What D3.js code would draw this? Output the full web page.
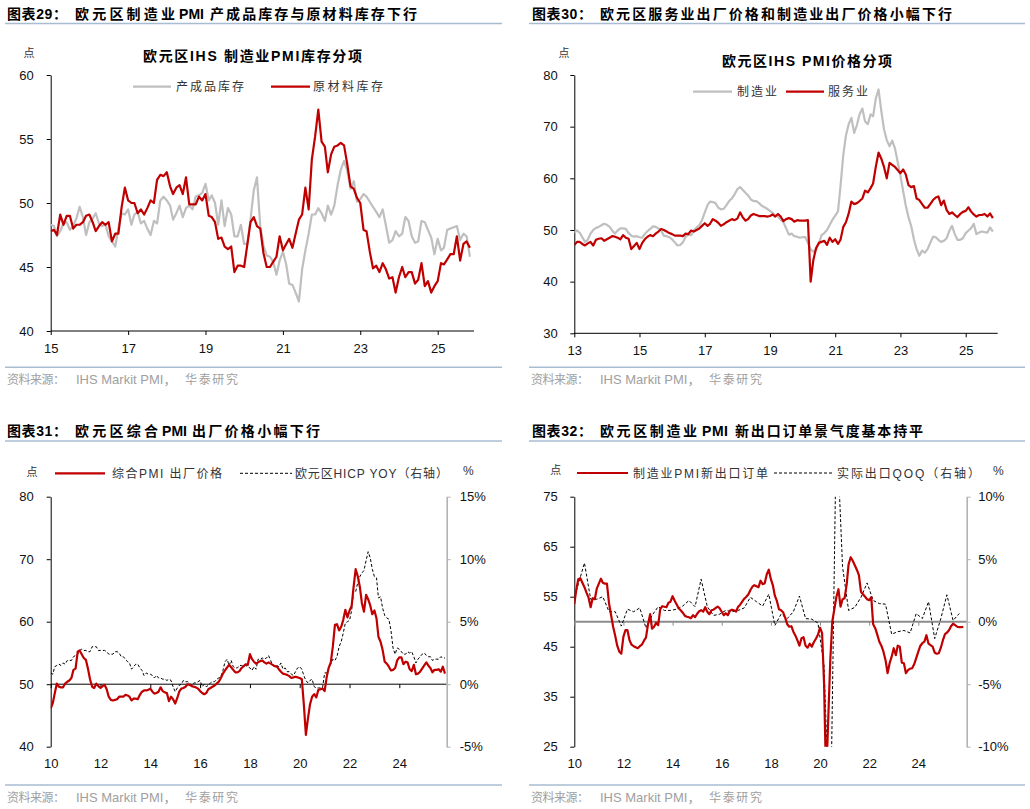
<!DOCTYPE html>
<html>
<head>
<meta charset="utf-8">
<script src="https://cdn.jsdelivr.net/npm/d3@7/dist/d3.min.js"></script>
<style>
  body { margin: 0; background: #ffffff; }
  text { font-family: "Liberation Sans", Arial, "Noto Sans CJK SC", sans-serif; }
</style>
</head>
<body>
<svg id="canvas" width="1030" height="809"></svg>
<script>
// Donnees

// Graphique 29 : stocks PMI manufacturier, mensuel depuis 2015-01
var debut29 = "2015-01";
var produitsFinis29 = [
  48.3,48.2,47.4,47.8,48.4,48.5,47.9,48.2,48.8,49.7,48.9,47.5,
  48.5,48.8,49.2,48.4,48.2,48.3,47.4,47.0,46.6,48.0,49.2,49.1,
  49.5,48.3,49.1,49.3,48.4,48.6,48.0,47.5,48.6,48.4,50.2,50.5,
  50.2,49.8,48.7,49.2,49.8,48.9,49.6,49.8,49.5,50.5,50.6,50.8,
  51.5,50.2,50.6,50.0,48.3,50.2,48.2,49.6,49.1,47.4,47.4,48.3,
  46.8,46.8,48.7,51.0,52.0,48.2,46.7,45.9,45.8,45.4,44.4,45.5,
  46.2,45.2,43.7,43.6,43.0,42.3,44.8,46.3,47.6,49.1,49.1,49.6,
  49.2,48.6,49.8,49.1,49.8,51.4,52.6,53.3,52.5,51.1,51.7,50.1,
  50.3,50.7,50.5,50.1,49.7,49.3,48.9,49.5,48.2,46.9,47.1,47.8,
  47.4,47.6,48.9,48.6,47.4,46.9,47.0,48.6,48.5,47.9,47.3,46.0,
  47.2,46.3,46.5,47.9,48.0,48.1,48.2,47.1,47.6,47.4,45.8
];
var matieres29 = [
  47.8,47.9,47.5,49.1,48.3,49.0,49.0,48.0,48.3,48.3,48.5,49.0,
  49.1,48.5,47.8,48.2,48.5,48.3,48.5,47.0,47.6,47.6,49.7,51.2,
  50.2,50.0,50.0,49.2,49.5,49.1,49.6,50.2,50.0,51.8,52.2,52.1,
  52.4,51.3,50.7,51.2,51.4,50.7,52.0,49.9,49.9,49.9,50.5,50.2,
  50.7,49.0,48.9,48.5,47.2,47.3,46.6,46.4,46.6,44.6,45.1,45.1,
  45.0,46.8,48.5,48.9,48.2,48.0,46.1,45.0,45.0,45.4,45.8,47.4,
  46.3,46.8,47.2,46.5,47.6,48.7,49.1,51.2,49.5,53.4,55.2,57.3,
  54.8,54.4,52.4,53.8,54.4,54.5,54.7,54.5,53.0,51.3,51.1,50.4,
  50.0,47.9,47.8,46.2,44.9,45.1,44.6,45.3,44.8,44.1,44.2,43.0,
  44.2,45.0,44.2,44.6,44.6,43.7,44.0,45.3,43.5,43.9,43.0,43.5,
  43.9,45.3,45.2,45.6,46.0,46.0,47.4,45.5,46.8,47.0,46.5
];
var annees29 = [2015, 2017, 2019, 2021, 2023, 2025];
var graduations29 = [40, 45, 50, 55, 60];

// Graphique 30 : prix de vente, mensuel depuis 2013-01
var debut30 = "2013-01";
var manufacture30 = [
  49.5,49.9,49.5,48.6,47.7,48.1,49.3,50.0,50.4,50.6,50.9,51.2,
  51.0,50.6,49.9,49.3,49.9,50.3,50.3,50.2,49.4,48.9,48.7,48.8,
  48.6,48.5,49.2,49.8,50.2,50.7,50.6,50.3,49.9,48.9,48.8,48.6,
  48.2,47.6,47.0,47.1,47.6,48.7,49.1,49.0,49.9,50.5,50.9,51.9,
  53.4,54.8,55.5,55.4,55.2,54.3,54.0,54.1,54.8,55.6,56.1,56.9,
  57.9,58.3,57.8,57.2,56.7,55.9,55.6,55.6,55.2,54.7,54.4,54.1,
  53.7,53.3,52.8,52.6,52.0,51.5,50.3,49.1,49.3,48.8,48.7,48.5,
  48.6,48.6,47.5,46.2,45.8,46.2,47.3,49.0,49.4,50.0,51.0,52.0,
  52.8,53.6,58.5,64.5,68.3,70.5,71.7,68.8,70.3,72.4,73.5,71.0,
  70.5,72.4,72.0,75.5,77.2,73.0,69.5,67.4,66.2,67.3,65.8,63.2,
  60.5,57.5,54.8,52.5,50.8,48.2,46.3,45.0,46.0,45.6,46.3,47.5,
  48.7,48.6,48.1,47.7,47.9,48.4,49.8,50.8,49.2,48.1,48.1,48.4,
  49.4,49.9,50.3,51.2,49.2,49.5,49.7,49.6,49.5,50.5,49.7
];
var services30 = [
  47.1,47.7,47.7,47.3,47.0,47.4,47.7,47.0,48.1,48.3,48.4,47.9,
  48.2,48.5,48.8,48.7,48.5,48.2,49.0,48.5,48.3,46.3,46.9,47.5,
  46.3,47.5,48.2,48.7,49.0,48.8,49.3,49.7,50.2,50.0,49.7,49.4,
  49.2,48.9,48.9,48.9,48.8,49.3,49.2,49.9,49.7,50.0,50.3,50.8,
  51.3,50.8,51.2,52.1,51.8,51.4,50.8,51.1,51.5,51.8,52.1,51.9,
  52.2,53.4,52.5,51.8,52.1,52.8,53.1,52.9,52.7,52.7,52.7,52.6,
  52.7,53.0,52.6,53.1,52.6,51.7,52.1,52.3,52.1,51.6,51.9,51.8,
  51.8,51.8,51.9,40.0,44.2,46.5,47.5,47.7,47.9,47.1,48.5,47.7,
  48.2,47.3,48.1,50.6,51.5,53.2,55.5,55.0,55.2,55.6,56.1,57.6,
  57.3,58.1,59.0,62.3,65.0,63.8,62.2,60.0,63.0,62.6,62.2,61.6,
  61.0,61.7,60.8,58.7,58.3,58.5,56.1,55.8,55.0,54.3,54.3,55.0,
  55.8,56.3,56.5,54.8,55.7,53.9,53.1,53.4,52.9,52.5,53.1,53.5,
  53.7,54.4,53.6,53.0,52.6,52.9,52.9,53.1,52.6,53.2,52.3
];
var annees30 = [2013, 2015, 2017, 2019, 2021, 2023, 2025];
var graduations30 = [30, 40, 50, 60, 70, 80];

// Graphique 31 : PMI composite prix de vente et HICP, mensuel depuis 2010-01
var debut31 = "2010-01";
var pmiComposite31 = [
  46.1,47.0,48.5,50.1,49.6,49.5,49.5,50.1,50.4,50.6,51.0,52.3,
  52.5,55.2,55.4,54.8,54.2,53.9,52.5,50.8,49.6,49.4,50.1,49.7,
  49.4,49.7,49.9,49.2,48.0,47.5,47.4,47.5,47.6,48.0,48.0,48.0,
  48.3,48.2,48.0,47.4,47.7,47.7,47.6,48.3,48.8,49.0,49.0,49.1,
  49.3,48.8,48.5,48.6,48.8,49.5,48.9,48.7,48.6,47.3,48.0,47.6,
  46.9,47.8,48.8,49.3,49.4,49.6,50.0,49.9,49.7,49.6,49.5,49.3,
  48.9,48.6,48.4,48.6,49.2,49.4,49.6,49.8,50.1,50.4,51.0,51.7,
  52.2,52.7,53.1,52.7,52.3,51.9,51.9,52.1,52.6,52.9,53.2,53.1,
  54.8,54.0,53.6,53.3,53.5,53.7,53.8,53.5,53.3,53.5,53.3,53.1,
  52.9,52.8,52.4,52.0,51.7,51.6,51.5,51.3,51.0,51.1,51.2,51.1,
  51.0,50.8,46.9,41.9,44.5,46.8,48.0,48.4,47.9,49.1,49.2,49.3,
  48.9,51.2,52.6,53.5,56.0,59.5,59.6,58.6,59.2,60.3,61.9,60.7,
  61.8,62.5,65.5,68.4,67.3,65.6,63.0,61.6,64.3,63.6,62.6,61.2,
  61.8,60.5,57.6,56.8,55.5,53.6,53.3,52.8,52.2,52.3,52.6,53.8,
  54.3,54.3,53.2,53.6,53.5,52.4,52.1,53.1,51.6,51.7,52.0,52.5,
  53.0,53.5,53.0,52.6,51.9,52.3,52.3,52.4,52.0,52.8,51.7
];
var hicp31 = [
  0.9,0.8,1.4,1.5,1.6,1.5,1.7,1.6,1.9,1.9,1.9,2.2,
  2.3,2.4,2.7,2.8,2.7,2.7,2.6,2.6,3.0,3.0,3.0,2.7,
  2.7,2.7,2.7,2.6,2.4,2.4,2.4,2.6,2.6,2.5,2.2,2.2,
  2.0,1.8,1.7,1.2,1.4,1.6,1.6,1.3,1.1,0.7,0.9,0.8,
  0.8,0.7,0.5,0.7,0.5,0.5,0.4,0.4,0.3,0.4,0.3,-0.2,
  -0.6,-0.3,-0.1,0.0,0.3,0.2,0.2,0.1,-0.1,0.1,0.1,0.2,
  0.3,-0.2,0.0,-0.2,-0.1,0.1,0.2,0.2,0.4,0.5,0.6,1.1,
  1.8,2.0,1.5,1.9,1.4,1.3,1.3,1.5,1.5,1.4,1.5,1.4,
  1.3,1.1,1.4,1.2,2.0,2.0,2.1,2.0,2.1,2.3,1.9,1.5,
  1.4,1.5,1.4,1.7,1.2,1.3,1.0,1.0,0.8,0.7,1.0,1.3,
  1.4,1.2,0.7,0.3,0.1,0.3,0.4,-0.2,-0.3,-0.3,-0.3,-0.3,
  0.9,0.9,1.3,1.6,2.0,1.9,2.2,3.0,3.4,4.1,4.9,5.0,
  5.1,5.9,7.4,7.4,8.1,8.6,8.9,9.1,9.9,10.6,10.1,9.2,
  8.6,8.5,6.9,7.0,6.1,5.5,5.3,5.2,4.3,2.9,2.4,2.9,
  2.8,2.6,2.4,2.4,2.6,2.5,2.6,2.2,1.7,2.0,2.2,2.4,
  2.5,2.3,2.2,2.2,1.9,2.0,2.0,2.0,2.2,2.1,2.1
];
var annees31 = [2010, 2012, 2014, 2016, 2018, 2020, 2022, 2024];
var graduations31 = [40, 50, 60, 70, 80];
var graduationsDroite31 = [-5, 0, 5, 10, 15];

// Graphique 32 : nouvelles commandes export (mensuel) et exportations QoQ (trimestriel)
var debut32 = "2010-01";
var commandesExport32 = [
  53.5,56.5,58.5,58.7,57.8,56.9,55.8,54.8,52.9,54.7,54.5,56.6,
  57.6,58.6,57.8,57.6,57.6,53.7,51.4,49.0,47.2,45.2,44.0,43.6,
  47.0,48.3,48.3,46.3,45.4,45.1,44.9,44.7,45.1,45.4,46.2,46.8,
  49.5,51.5,48.6,49.0,49.8,49.3,52.5,53.1,53.0,52.9,53.8,54.0,
  55.1,54.2,53.5,52.7,52.3,51.8,51.2,51.0,50.9,50.7,51.3,50.9,
  51.6,52.1,52.3,52.0,52.9,52.0,51.5,52.3,52.4,52.7,53.0,52.7,
  52.0,51.3,51.7,51.3,52.2,52.4,52.3,52.0,53.0,53.4,54.0,54.6,
  55.0,55.5,56.3,57.0,57.3,57.1,56.9,58.2,57.5,57.7,59.5,60.4,
  58.5,57.2,55.2,54.1,52.5,52.3,51.9,50.8,49.5,49.0,49.1,48.0,
  47.2,46.2,45.2,46.7,46.9,45.2,44.8,45.6,45.0,45.9,46.6,47.4,
  48.8,47.7,37.7,18.0,30.0,42.0,50.0,52.5,55.0,56.5,53.0,54.5,
  54.7,57.5,61.5,62.9,62.2,61.3,60.4,59.3,56.0,55.5,55.0,54.5,
  54.3,54.9,49.5,48.7,47.4,46.0,45.2,44.0,42.3,39.7,41.7,43.0,
  44.7,43.3,45.2,45.0,41.8,41.7,39.7,40.3,40.6,40.7,41.5,42.7,
  44.0,45.2,45.7,46.0,47.3,45.6,45.3,45.0,43.8,43.6,43.7,44.8,
  46.3,47.5,47.8,48.3,49.1,49.6,49.3,49.0,48.9,48.9,49.0
];
var debutTrim32 = "2009-12";
var exportQoq32 = [
  1.3,
  3.0, 4.7, 1.8, 1.8,
  2.0, 0.8, 0.8, -0.35,
  1.0, 0.8, 1.1, -0.5,
  0.5, 1.2, 0.9, 0.9,
  1.0, 1.25, 1.7, 1.2,
  3.4, 1.2, 0.5, 0.6,
  0.9, 0.8, 0.9, 1.1,
  1.95, 1.6, 1.25, 2.2,
  -0.3, 0.6, 0.25, 0.8,
  2.05, 0.25, 0.2, -0.1,
  -3.5, -18.0, 16.0, 4.4,
  0.9, 1.15, 1.95, 3.1,
  1.7, 1.45, 1.4, -1.0,
  -0.8, -0.7, -0.9, 0.65,
  0.25, 1.6, -1.35, 0.25,
  2.15, 0.1, 0.65
];
var annees32 = [2010, 2012, 2014, 2016, 2018, 2020, 2022, 2024];
var graduations32 = [25, 35, 45, 55, 65, 75];
var graduationsDroite32 = [-10, -5, 0, 5, 10];

// Constantes de style
var ROUGE = "#c00000";
var GRIS = "#bfbfbf";
var CJK = "\"Noto Sans CJK SC\", sans-serif";
var LATIN = "\"Liberation Sans\", Arial, sans-serif";
var BLEU = "#a9bdd2";

var svg = d3.select("#canvas");
var parseMois = d3.timeParse("%Y-%m");

// Utilitaires
function serie (debut, pas, valeurs) {
    var d0 = parseMois(debut);
    return valeurs.map(function (v, i) { return { date: d3.timeMonth.offset(d0, i * pas), valeur: v }; });
}

function dates (liste) {
    return liste.map(function (a) { return new Date(a, 0, 1); });
}

function texte (x, y, chaine, o) {
    var t = svg.append("text").attr("x", x).attr("y", y).text(chaine)
        .attr("font-size", o.taille || 12)
        .attr("fill", o.couleur || "#000")
        .attr("font-family", o.police || CJK);
    if (o.gras) t.attr("font-weight", "bold");
    if (o.ancre) t.attr("text-anchor", o.ancre);
    if (o.largeur) t.attr("textLength", o.largeur).attr("lengthAdjust", "spacing");
    return t;
}

function trait (x1, y1, x2, y2, couleur, epaisseur, tirets) {
    return svg.append("line")
        .attr("x1", x1).attr("y1", y1).attr("x2", x2).attr("y2", y2)
        .attr("stroke", couleur).attr("stroke-width", epaisseur)
        .attr("stroke-dasharray", tirets || null);
}

function styleAxe (g, couleur) {
    g.selectAll(".domain").attr("stroke", couleur).attr("stroke-width", 1);
    g.selectAll(".tick line").attr("stroke", couleur);
    g.selectAll(".tick text").attr("font-size", 13).attr("fill", "#111").attr("font-family", LATIN);
}

// Cadre d'un panneau : echelles, axe gauche, axe des x
function cadre (p) {
    var x = d3.scaleTime()
        .domain([new Date(p.annees[0], 0, 1), new Date(p.annees[p.annees.length - 1], 0, 1)])
        .range([p.gauche, p.xDernier]);
    var y = d3.scaleLinear().domain(p.dom).range([p.bas, p.haut]);

    var gy = svg.append("g").attr("transform", "translate(" + p.gauche + ",0)")
        .call(d3.axisLeft(y).tickValues(p.graduations).tickSize(4).tickSizeOuter(0).tickPadding(p.padGauche));
    styleAxe(gy, "#000");

    var yLigne = p.zero === undefined ? p.bas : y(p.zero);
    var couleurLigne = p.couleurZero || "#000";
    trait(p.gauche, yLigne, p.droite, yLigne, couleurLigne, p.epaisseurZero || 1);

    // graduations sur la ligne des x
    var gt = svg.append("g").attr("transform", "translate(0," + yLigne + ")")
        .call(d3.axisBottom(x).tickValues(dates(p.annees)).tickSize(4).tickFormat(""));
    gt.select(".domain").remove();
    gt.selectAll(".tick line").attr("stroke", couleurLigne);

    // etiquettes des annees en bas
    var gx = svg.append("g").attr("transform", "translate(0," + p.bas + ")")
        .call(d3.axisBottom(x).tickValues(dates(p.annees)).tickSize(0).tickPadding(p.padX)
            .tickFormat(d3.timeFormat("%y")));
    gx.select(".domain").remove();
    styleAxe(gx, "#000");

    var id = "clip" + p.nom;
    svg.append("clipPath").attr("id", id).append("rect")
        .attr("x", p.gauche).attr("y", p.haut)
        .attr("width", p.droite - p.gauche).attr("height", p.bas - p.haut);

    return { x: x, y: y, clip: "url(#" + id + ")", p: p };
}

function axeDroit (c, dom, graduations, pad) {
    var p = c.p;
    var y2 = d3.scaleLinear().domain(dom).range([p.bas, p.haut]);
    var g = svg.append("g").attr("transform", "translate(" + p.droite + ",0)")
        .call(d3.axisRight(y2).tickValues(graduations).tickSize(4).tickSizeOuter(0).tickPadding(pad)
            .tickFormat(function (d) { return d + "%"; }));
    styleAxe(g, "#b3b3b3");
    g.select(".domain").attr("stroke-width", 1.6);
    return y2;
}

function courbe (c, donnees, y, couleur, epaisseur, tirets) {
    svg.append("path").datum(donnees)
        .attr("clip-path", c.clip)
        .attr("fill", "none")
        .attr("stroke", couleur)
        .attr("stroke-width", epaisseur)
        .attr("stroke-linejoin", "round")
        .attr("stroke-dasharray", tirets || null)
        .attr("d", d3.line().x(function (d) { return c.x(d.date); }).y(function (d) { return y(d.valeur); }));
}

function legende (x1, x2, y, couleur, epaisseur, tirets, xt, chaine, largeur) {
    trait(x1, y, x2, y, couleur, epaisseur, tirets);
    texte(xt, y + 4.5, chaine, { taille: 12, couleur: "#333", largeur: largeur });
}

// En-tetes (morceaux : [x, texte, largeur]) et pieds de page
function entete (y, morceaux, x0, xFin) {
    morceaux.forEach(function (m) {
        texte(m[0], y, m[1], { taille: 14, gras: true, largeur: m[2] });
    });
    trait(x0, y + 5, xFin, y + 5, BLEU, 1.5);
}
function piedDePage (x, y, xFin) {
    trait(x - 2, y, xFin, y, BLEU, 1.5);
    texte(x, y + 17, "资料来源：", { taille: 12, couleur: "#a0a0a0", largeur: 58 });
    texte(x + 69, y + 17, "IHS Markit PMI，", { taille: 13, couleur: "#a0a0a0", police: LATIN });
    texte(x + 178, y + 17, "华泰研究", { taille: 12, couleur: "#a0a0a0", largeur: 53 });
}

entete(18.5, [[7, "图表29：", 60], [75, "欧元区制造业", 100], [179, "PMI", 25], [210, "产成品库存与原材料库存下行", 207]], 5, 502);
entete(18.5, [[532, "图表30：", 60], [600, "欧元区服务业出厂价格和制造业出厂价格小幅下行", 352]], 529, 1025);
entete(436, [[7, "图表31：", 60], [75, "欧元区综合", 83], [162, "PMI", 25], [192, "出厂价格小幅下行", 128]], 5, 502);
entete(436, [[532, "图表32：", 60], [600, "欧元区制造业", 97], [702, "PMI", 26], [735, "新出口订单景气度基本持平", 188]], 529, 1025);
piedDePage(7, 367.3, 502);
piedDePage(531, 367.3, 1025);
piedDePage(7, 785, 502);
piedDePage(531, 785, 1025);

// Graphique 29
var c29 = cadre({ nom: "29", gauche: 50.7, droite: 474, haut: 75, bas: 331, xDernier: 437.7,
    annees: annees29, dom: [40, 60], graduations: graduations29, padGauche: 13, padX: 12.4 });
courbe(c29, serie(debut29, 1, produitsFinis29), c29.y, GRIS, 2.2);
courbe(c29, serie(debut29, 1, matieres29), c29.y, ROUGE, 2.2);
texte(29, 57, "点", { taille: 11, couleur: "#333", ancre: "middle" });
texte(252.5, 61.3, "欧元区IHS 制造业PMI库存分项", { taille: 14, gras: true, ancre: "middle", largeur: 219 });
legende(133, 171, 86.7, GRIS, 2.2, null, 176, "产成品库存", 68);
legende(271, 310, 86.7, ROUGE, 2.2, null, 313, "原材料库存", 70);

// Graphique 30
var c30 = cadre({ nom: "30", gauche: 574.3, droite: 997.7, haut: 75, bas: 333.3, xDernier: 965.7,
    annees: annees30, dom: [30, 80], graduations: graduations30, padGauche: 12.6, padX: 12.1 });
courbe(c30, serie(debut30, 1, manufacture30), c30.y, GRIS, 2.2);
courbe(c30, serie(debut30, 1, services30), c30.y, ROUGE, 2.2);
texte(564, 57, "点", { taille: 11, couleur: "#333", ancre: "middle" });
texte(807, 66, "欧元区IHS PMI价格分项", { taille: 14, gras: true, ancre: "middle", largeur: 170 });
legende(693, 732, 91.7, GRIS, 2.2, null, 737, "制造业", 40);
legende(786, 824, 91.7, ROUGE, 2.2, null, 828, "服务业", 40);

// Graphique 31
var c31 = cadre({ nom: "31", gauche: 50.7, droite: 446.7, haut: 496.7, bas: 746.7, xDernier: 399.3,
    annees: annees31, dom: [40, 80], graduations: graduations31, padGauche: 13, padX: 11.7, zero: 50 });
var y31 = axeDroit(c31, [-5, 15], graduationsDroite31, 9);
courbe(c31, serie(debut31, 1, hicp31), y31, "#000", 1, "3,2");
courbe(c31, serie(debut31, 1, pmiComposite31), c31.y, ROUGE, 2.2);
texte(32, 476, "点", { taille: 11, couleur: "#333", ancre: "middle" });
legende(55, 105, 473.3, ROUGE, 2.2, null, 112, "综合PMI 出厂价格", 110);
legende(240, 292, 473.3, "#000", 1, "3,2", 295, "欧元区HICP YOY（右轴）", 153);
texte(463, 475, "%", { taille: 12, couleur: "#333", police: LATIN });

// Graphique 32
var c32 = cadre({ nom: "32", gauche: 574.3, droite: 966.7, haut: 496.7, bas: 746.7, xDernier: 918.3,
    annees: annees32, dom: [25, 75], graduations: graduations32, padGauche: 12.6, padX: 12,
    zero: 50, couleurZero: "#8c8c8c", epaisseurZero: 2 });
var y32 = axeDroit(c32, [-10, 10], graduationsDroite32, 7.6);
courbe(c32, serie(debutTrim32, 3, exportQoq32), y32, "#000", 1, "3,2");
courbe(c32, serie(debut32, 1, commandesExport32), c32.y, ROUGE, 2.2);
texte(555.7, 473.5, "点", { taille: 11, couleur: "#333", ancre: "middle" });
legende(577, 628, 473, ROUGE, 2.2, null, 633, "制造业PMI新出口订单", 135);
legende(774, 832, 473, "#000", 1, "3,2", 837, "实际出口QOQ（右轴）", 143);
texte(993, 475, "%", { taille: 12, couleur: "#333", police: LATIN });
</script>
</body>
</html>
